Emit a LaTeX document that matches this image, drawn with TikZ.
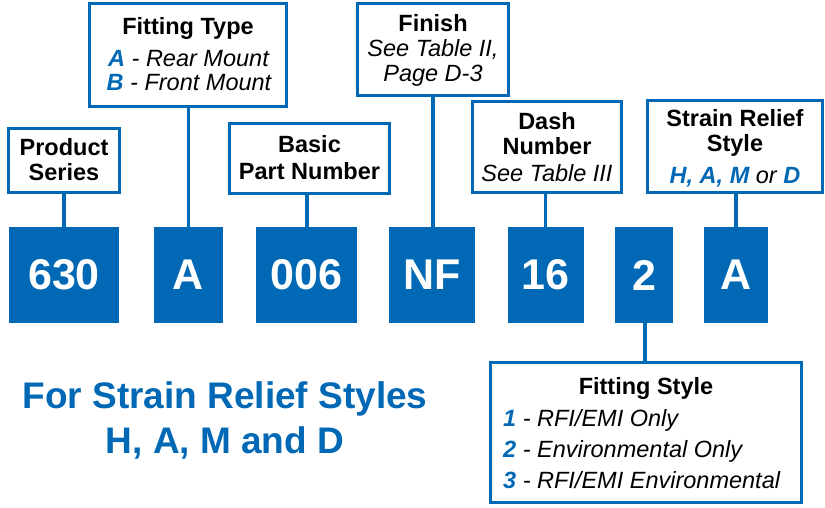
\documentclass[tikz,border=0pt]{standalone}
\usepackage{fontspec}
\setmainfont{Liberation Sans}
\definecolor{cblue}{RGB}{0,104,180}
\tikzset{
 lbox/.style={draw=cblue, line width=3.3pt, fill=white, inner sep=0pt},
 cbox/.style={fill=cblue, inner sep=0pt, text=white, font=\fontsize{43}{43}\selectfont\bfseries},
 conn/.style={draw=cblue, line width=3.5pt},
 ttl/.style={anchor=base, font=\fontsize{23.5}{23.5}\selectfont\bfseries, inner sep=0pt},
 itl/.style={anchor=base, font=\fontsize{23.5}{23.5}\selectfont\itshape, inner sep=0pt},
 bigt/.style={anchor=base, font=\fontsize{37}{37}\selectfont\bfseries, text=cblue, inner sep=0pt},
}
\newcommand\hb[1]{\textcolor{cblue}{\bfseries #1}}
\begin{document}
\begin{tikzpicture}[x=1pt,y=-1pt]
\useasboundingbox[fill=white] (0,0) rectangle (825,508);
% code boxes
\node[cbox, minimum width=110pt, minimum height=96pt] (c1) at (64,275) {630};
\node[cbox, minimum width=69pt, minimum height=96pt] (c2) at (188.5,275) {A};
\node[cbox, minimum width=101pt, minimum height=96pt] (c3) at (306.5,275) {006};
\node[cbox, minimum width=86pt, minimum height=96pt] (c4) at (432,275) {NF};
\node[cbox, minimum width=76pt, minimum height=96pt] (c5) at (545.5,275) {16};
\node[cbox, minimum width=58pt, minimum height=96pt] (c6) at (644,275) {2};
\node[cbox, minimum width=64pt, minimum height=96pt] (c7) at (736,275) {A};
% label boxes
\node[lbox, minimum width=110.7pt, minimum height=63.7pt] (ps) at (64,160.5) {};
\node[lbox, minimum width=196.7pt, minimum height=102.7pt] (ft) at (188,55) {};
\node[lbox, minimum width=159.7pt, minimum height=69.7pt] (bp) at (309.5,158.5) {};
\node[lbox, minimum width=150.7pt, minimum height=91.7pt] (fi) at (433,49.5) {};
\node[lbox, minimum width=148.7pt, minimum height=90.7pt] (dn) at (547,147) {};
\node[lbox, minimum width=174.7pt, minimum height=91.7pt] (sr) at (735,146.5) {};
\node[lbox, minimum width=310.7pt, minimum height=139.7pt] (fs) at (646,432.5) {};
% connectors
\draw[conn] (c1.north) -- (c1.north |- ps.south);
\draw[conn] (c2.north) -- (c2.north |- ft.south);
\draw[conn] ([xshift=0.5pt]c3.north) -- ([xshift=0.5pt]c3.north |- bp.south);
\draw[conn] ([xshift=1pt]c4.north) -- ([xshift=1pt]c4.north |- fi.south);
\draw[conn] (c5.north) -- (c5.north |- dn.south);
\draw[conn] (c7.north) -- (c7.north |- sr.south);
\draw[conn] ([xshift=1pt]c6.south) -- ([xshift=1pt]c6.south |- fs.north);
% texts
\node[ttl] (psA) at (64,156) {Product};
\node[ttl] (psB) at (64,181) {Series};
\node[ttl] (ftA) at (188,35) {Fitting Type};
\node[itl] (ftB) at (188.5,67) {\hb{A} - Rear Mount};
\node[itl] (ftC) at (189,91) {\hb{B} - Front Mount};
\node[ttl] (bpA) at (309.5,153) {Basic};
\node[ttl] (bpB) at (309.5,179) {Part Number};
\node[ttl] (fiA) at (433,32) {Finish};
\node[itl] (fiB) at (433,57) {See Table II,};
\node[itl] (fiC) at (433,82) {Page D-3};
\node[ttl] (dnA) at (547,130) {Dash};
\node[ttl] (dnB) at (547,155) {Number};
\node[itl] (dnC) at (547,182) {See Table III};
\node[ttl] (srA) at (735,127) {Strain Relief};
\node[ttl] (srB) at (735,152) {Style};
\node[itl] (srC) at (735,184) {\hb{H, A, M} or \hb{D}};
\node[ttl] (fsA) at (646,394) {Fitting Style};
\node[itl, anchor=base west] (fsB) at (503,426) {\hb{1} - RFI/EMI Only};
\node[itl, anchor=base west] (fsC) at (503,457) {\hb{2} - Environmental Only};
\node[itl, anchor=base west] (fsD) at (503,488) {\hb{3} - RFI/EMI Environmental};
\node[bigt] (t1) at (225,408) {For Strain Relief Styles};
\node[bigt] (t2) at (225,453) {H, A, M and D};
\end{tikzpicture}
\end{document}
